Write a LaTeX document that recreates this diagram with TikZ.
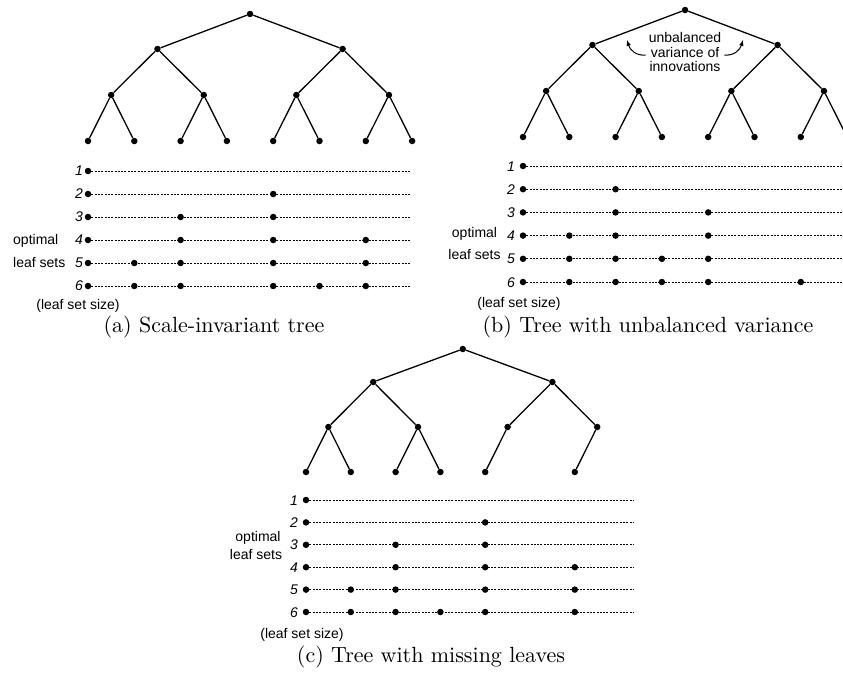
\documentclass[tikz,border=0pt]{standalone}
\usepackage{fontspec}
\newfontfamily\helv{Liberation Sans}
\newfontfamily\capfont{lmroman10-regular}[Extension=.otf]
\usetikzlibrary{arrows}

\tikzset{
  dot/.style={circle,fill,inner sep=0pt,minimum size=6.5pt},
  edge/.style={line width=1.3pt},
  row/.style={line width=0.8pt,dash pattern=on 2pt off 1.3pt},
  num/.style={font=\helv\itshape\fontsize{14}{16}\selectfont,anchor=base east,inner sep=0pt},
  lbl/.style={font=\helv\fontsize{14}{16}\selectfont,inner sep=0pt},
  capt/.style={font=\capfont\fontsize{22}{26}\selectfont,anchor=base,inner sep=0pt}
}

\begin{document}
\begin{tikzpicture}[x=1pt,y=-1pt]
  \useasboundingbox (0,0) rectangle (843,675);
  \clip (0,0) rectangle (843,675);

  %%% (a) Scale-invariant tree
  \def\xo{88}
  \def\lgap{46.3}
  % tree nodes
  \foreach \i in {0,...,7}
    \node[dot] (aL\i) at ({\xo+\lgap*\i},141) {};
  \foreach \i in {0,...,3}
    \node[dot] (aM\i) at ({\xo+\lgap*(2*\i+0.5)},95) {};
  \foreach \i in {0,1}
    \node[dot] (aH\i) at ({\xo+\lgap*(4*\i+1.5)},49) {};
  \node[dot] (aR) at ({\xo+\lgap*3.5},14) {};
  % tree edges
  \foreach \i [evaluate=\i as \l using int(2*\i), evaluate=\i as \r using int(2*\i+1)] in {0,...,3}
    {\draw[edge] (aM\i) -- (aL\l);
     \draw[edge] (aM\i) -- (aL\r);}
  \draw[edge] (aH0) -- (aM0) (aH0) -- (aM1) (aH1) -- (aM2) (aH1) -- (aM3);
  \draw[edge] (aR) -- (aH0) (aR) -- (aH1);
  % leaf sets
  \foreach \r/\set in {1/{0},2/{0,4},3/{0,2,4},4/{0,2,4,6},5/{0,1,2,4,6},6/{0,1,2,4,5,6}}
    {\pgfmathsetmacro\ry{171+23*(\r-1)}
     \foreach \i in \set
       \node[dot] (aD\r\i) at ({\xo+\lgap*\i},\ry) {};
     \coordinate (aE\r) at (410,\ry);
     \draw[row] (aD\r0) -- (aE\r);
     \node[num] (aN\r) at ({\xo-5},{\ry+4}) {\r};}
  \node[lbl,anchor=base west] (aopt) at (13,244) {optimal};
  \node[lbl,anchor=base west] (aleaf) at (13,267) {leaf sets};
  \node[lbl,anchor=base] (asize) at (78,309) {(leaf set size)};
  \node[capt] (acap) at (214,332) {(a) Scale-invariant tree};

  %%% (b) Tree with unbalanced variance
  \def\xo{523}
  \def\lgap{46.3}
  % tree nodes
  \foreach \i in {0,...,7}
    \node[dot] (bL\i) at ({\xo+\lgap*\i},137) {};
  \foreach \i in {0,...,3}
    \node[dot] (bM\i) at ({\xo+\lgap*(2*\i+0.5)},91) {};
  \foreach \i in {0,1}
    \node[dot] (bH\i) at ({\xo+\lgap*(4*\i+1.5)},45) {};
  \node[dot] (bR) at ({\xo+\lgap*3.5},10) {};
  % tree edges
  \foreach \i [evaluate=\i as \l using int(2*\i), evaluate=\i as \r using int(2*\i+1)] in {0,...,3}
    {\draw[edge] (bM\i) -- (bL\l);
     \draw[edge] (bM\i) -- (bL\r);}
  \draw[edge] (bH0) -- (bM0) (bH0) -- (bM1) (bH1) -- (bM2) (bH1) -- (bM3);
  \draw[edge] (bR) -- (bH0) (bR) -- (bH1);
  % annotation
  \node[lbl,align=center,font=\helv\fontsize{14}{14.5}\selectfont] (bnote) at (685,52)
    {unbalanced\\variance of\\innovations};
  \coordinate (bTipL) at (627,40);
  \coordinate (bTipR) at (743,40);
  \draw[line width=1pt,-latex] ([xshift=-3pt,yshift=-3pt]bnote.west)
    .. controls (636,56) and (630,50) .. (bTipL);
  \draw[line width=1pt,-latex] ([xshift=3pt,yshift=-3pt]bnote.east)
    .. controls (734,56) and (740,50) .. (bTipR);
  % leaf sets
  \foreach \r/\set in {1/{0},2/{0,2},3/{0,2,4},4/{0,1,2,4},5/{0,1,2,3,4},6/{0,1,2,3,4,6}}
    {\pgfmathsetmacro\ry{166+23.2*(\r-1)}
     \foreach \i in \set
       \node[dot] (bD\r\i) at ({\xo+\lgap*\i},\ry) {};
     \coordinate (bE\r) at (850,\ry);
     \draw[row] (bD\r0) -- (bE\r);
     \node[num] (bN\r) at ({\xo-8},{\ry+5}) {\r};}
  \node[lbl,anchor=base] (bopt) at (474.5,237.5) {optimal};
  \node[lbl,anchor=base] (bleaf) at (474.5,259) {leaf sets};
  \node[lbl,anchor=base] (bsize) at (519,307) {(leaf set size)};
  \node[capt] (bcap) at (648,332) {(b) Tree with unbalanced variance};

  %%% (c) Tree with missing leaves
  \def\xo{306}
  \def\lgap{44.8}
  % tree nodes
  \foreach \i in {0,1,2,3,4,6}
    \node[dot] (cL\i) at ({\xo+\lgap*\i},472) {};
  \foreach \i in {0,...,3}
    \node[dot] (cM\i) at ({\xo+\lgap*(2*\i+0.5)},427) {};
  \foreach \i in {0,1}
    \node[dot] (cH\i) at ({\xo+\lgap*(4*\i+1.5)},382) {};
  \node[dot] (cR) at ({\xo+\lgap*3.5},349) {};
  % tree edges
  \draw[edge] (cM0) -- (cL0) (cM0) -- (cL1) (cM1) -- (cL2) (cM1) -- (cL3);
  \draw[edge] (cM2) -- (cL4) (cM3) -- (cL6);
  \draw[edge] (cH0) -- (cM0) (cH0) -- (cM1) (cH1) -- (cM2) (cH1) -- (cM3);
  \draw[edge] (cR) -- (cH0) (cR) -- (cH1);
  % leaf sets
  \foreach \r/\set in {1/{0},2/{0,4},3/{0,2,4},4/{0,2,4,6},5/{0,1,2,4,6},6/{0,1,2,3,4,6}}
    {\pgfmathsetmacro\ry{500+22.4*(\r-1)}
     \foreach \i in \set
       \node[dot] (cD\r\i) at ({\xo+\lgap*\i},\ry) {};
     \coordinate (cE\r) at (633,\ry);
     \draw[row] (cD\r0) -- (cE\r);
     \node[num] (cN\r) at ({\xo-8},{\ry+5}) {\r};}
  \node[lbl,anchor=base] (copt) at (258,541.5) {optimal};
  \node[lbl,anchor=base] (cleaf) at (256,559) {leaf sets};
  \node[lbl,anchor=base] (csize) at (302,638) {(leaf set size)};
  \node[capt] (ccap) at (431,662) {(c) Tree with missing leaves};
\end{tikzpicture}
\end{document}
